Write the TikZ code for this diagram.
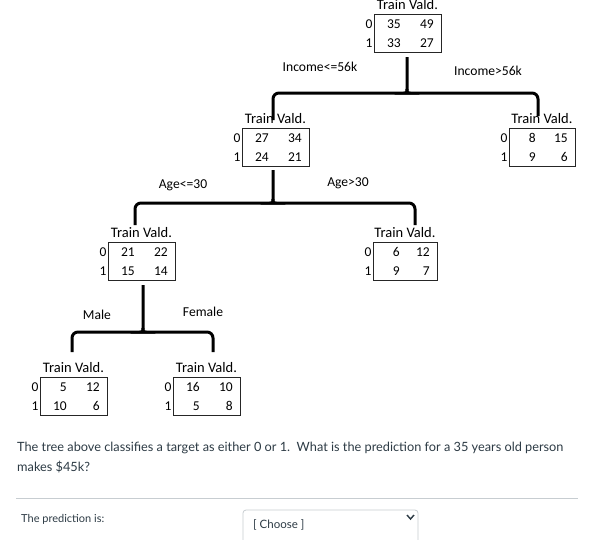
\documentclass[tikz,border=0pt]{standalone}
\usepackage{fontspec}
\setmainfont{Carlito}
\newfontfamily\latofont{Lato}
\usetikzlibrary{calc}
\definecolor{canvastext}{HTML}{2D3B45}
\definecolor{rulegray}{HTML}{C7CDD1}
\tikzset{
  tbox/.style={draw=black!85, line width=0.9pt, inner sep=0pt, anchor=north west},
  hdr/.style={font=\fontsize{14.5}{16}\selectfont, inner sep=0pt},
  num/.style={font=\fontsize{13.5}{15}\selectfont, inner sep=0pt, anchor=east},
  rowlab/.style={font=\fontsize{13.5}{15}\selectfont, inner sep=0pt},
  cond/.style={font=\fontsize{13.6}{15}\selectfont, inner sep=0pt},
  brace/.style={line width=3pt},
  qtext/.style={font=\latofont\fontsize{12.75}{15}\selectfont, text=canvastext, inner sep=0pt, anchor=west},
  stext/.style={font=\latofont\fontsize{11}{13}\selectfont, text=canvastext, inner sep=0pt, anchor=west},
}
% #1 name, #2 left, #3 right, #4 top, #5 #6 row0, #7 #8 row1
\newcommand\tblnode[8]{%
  \node[tbox, minimum width=#3-#2, minimum height=38] (#1) at (#2,#4) {};
  \node[hdr] (#1h) at ({(#2+#3)/2},#4-9) {Train Vald.};
  \node[rowlab] (#1z) at (#2-5,#4+10) {0};
  \node[rowlab] (#1o) at (#2-5,#4+29) {1};
  \node[num] (#1a) at (#2+27,#4+10) {#5};
  \node[num] (#1b) at (#3-7,#4+10) {#6};
  \node[num] (#1c) at (#2+27,#4+29) {#7};
  \node[num] (#1d) at (#3-7,#4+29) {#8};
}
% brace: #1 stem x, #2 stem top y, #3 bar y, #4 left x, #5 left end y, #6 right x, #7 right end y
\newcommand\tbrace[7]{%
  \draw[brace] (#4,#5) [rounded corners=6pt] -- (#4,#3) -- (#1-4,#3) [sharp corners] .. controls (#1,#3) .. (#1,#3-4) -- (#1,#2);
  \draw[brace] (#6,#7) [rounded corners=6pt] -- (#6,#3) -- (#1+4,#3) [sharp corners] .. controls (#1,#3) .. (#1,#3-4);
}
\begin{document}
\begin{tikzpicture}[x=1pt,y=-1pt]
  \useasboundingbox (0,0) rectangle (595,539);
  \fill[white] (0,0) rectangle (595,539);

  \tblnode{root}{374}{441}{14}{35}{49}{33}{27}
  \tblnode{incl}{242}{309}{128}{27}{34}{24}{21}
  \tblnode{incr}{509}{575}{128}{8}{15}{9}{6}
  \tblnode{agel}{108}{175}{242}{21}{22}{15}{14}
  \tblnode{ager}{373}{437}{242}{6}{12}{9}{7}
  \tblnode{male}{40}{107}{377}{5}{12}{10}{6}
  \tblnode{fem}{173}{240}{377}{16}{10}{5}{8}

  \tbrace{407}{57}{93}{273}{120}{538}{116}
  \tbrace{273}{170}{203}{135}{225}{415}{225}
  \tbrace{143}{285}{332}{72}{352}{213}{352}

  \node[cond] (c1) at (320,67) {Income<=56k};
  \node[cond] (c2) at (488,71) {Income>56k};
  \node[cond] (c3) at (183,185) {Age<=30};
  \node[cond] (c4) at (348,183) {Age>30};
  \node[cond] (c5) at (97,315) {Male};
  \node[cond] (c6) at (203,312) {Female};

  \node[qtext] (q1) at (17,448) {The tree above classifies a target as either 0 or 1.\ \ What is the prediction for a 35 years old person};
  \node[qtext] (q2) at (17,467) {makes \$45k?};
  \draw[rulegray, line width=0.8pt] (16,498) -- (578,498);
  \node[stext] (p) at (21,519) {The prediction is:};
  \draw[rulegray, line width=0.8pt, rounded corners=3pt] (243,545) -- (243,510) -- (418,510) -- (418,545);
  \node[stext, font=\latofont\fontsize{11.5}{13}\selectfont] (ch) at (253,525) {[ Choose ]};
  \draw[canvastext, line width=1.4pt] (407,515) -- (410.5,519) -- (414,515);
\end{tikzpicture}
\end{document}
